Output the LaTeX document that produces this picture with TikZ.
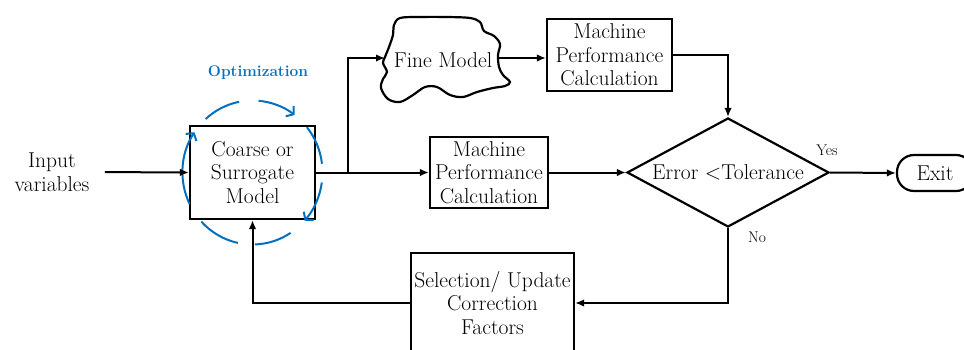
\documentclass[tikz,border=0pt]{standalone}
\usetikzlibrary{shapes.geometric,arrows.meta,calc}
\definecolor{optblue}{RGB}{0,112,192}
\begin{document}
\begin{tikzpicture}[x=1pt,y=1pt,
  mainfont/.style={font=\fontsize{21.5}{23.5}\selectfont},
  box/.style={draw, line width=2.2pt, align=center, inner sep=0pt, mainfont},
  conn/.style={line width=2pt, -{Latex[length=9pt,width=7.5pt]}},
  optarc/.style={optblue, line width=2pt},
  optarrow/.style={optblue, line width=2pt, -{Straight Barb[length=5pt,width=13pt,line width=2pt]}},
  smalltext/.style={font=\fontsize{15.5}{17}\selectfont}]
\useasboundingbox (0,0) rectangle (964,349);

% nodes
\node[align=center, mainfont] (input) at (52,177) {Input\\variables};
\node[box, minimum width=125pt, minimum height=93pt] (coarse) at (252.5,176.5) {Coarse or\\Surrogate\\Model};
\node[box, minimum width=118pt, minimum height=71pt] (box2) at (489,176.5) {Machine\\Performance\\Calculation};
\node[box, minimum width=125pt, minimum height=72pt] (box1) at (609.5,294) {Machine\\Performance\\Calculation};
\node[draw, line width=2.2pt, diamond, aspect=1.85, inner sep=0pt, minimum width=202pt, minimum height=109pt, mainfont] (dia) at (728,176.5) {Error <Tolerance};
\node[draw, line width=2.2pt, rectangle, rounded corners=17pt, minimum width=76pt, minimum height=36pt, mainfont] (exit) at (935,176) {Exit};
\node[box, minimum width=163pt, minimum height=100pt] (sel) at (492.5,46) {Selection/ Update\\Correction\\Factors};

% fine model cloud
\draw[line width=2.2pt] plot[smooth cycle, tension=0.55] coordinates {
 (385,292) (389,302) (393,314) (394,324) (400,331) (420,332) (447,332) (470,331) (480,327)
 (484,318) (494,313) (500,305) (498,294) (499,282) (503,274) (510,267) (505,263)
 (493,261) (477,257) (463,252) (450,254) (437,262) (425,262) (413,254) (400,247) (388,250)
 (381,261) (383,270) (387,277) (383,286)};
\node[mainfont] (fine) at (443,289) {Fine Model};
\coordinate (fineW) at (385,291);
\coordinate (fineE) at (499,291);
\coordinate (br) at (348,176.5);

% optimization loop
\coordinate (oc) at (252.5,176.5);
\node[optblue, font=\fontsize{15.5}{17}\selectfont\bfseries] (opt) at (258,276) {Optimization};
\draw[optarc] ($(oc)+(132:70 and 72)$) arc[start angle=132, end angle=101, x radius=70, y radius=72];
\draw[optarrow] ($(oc)+(85:70 and 72)$) arc[start angle=85, end angle=53, x radius=70, y radius=72];
\draw[optarc] ($(oc)+(39:70 and 72)$) arc[start angle=39, end angle=7, x radius=70, y radius=72];
\draw[optarrow] ($(oc)+(-8:70 and 72)$) arc[start angle=-8, end angle=-42, x radius=70, y radius=72];
\draw[optarc] ($(oc)+(-57:70 and 72)$) arc[start angle=-57, end angle=-88, x radius=70, y radius=72];
\draw[optarc] ($(oc)+(-102:70 and 72)$) arc[start angle=-102, end angle=-137, x radius=70, y radius=72];
\draw[optarrow] ($(oc)+(206:70 and 72)$) arc[start angle=206, end angle=146, x radius=70, y radius=72];

% connectors
\draw[conn, shorten <=12pt] (input.east) -- (coarse.west);
\draw[conn] (coarse.east) -- (box2.west);
\draw[conn] (br) |- (fineW);
\draw[conn] (fineE) -- (fineE -| box1.west);
\draw[conn] (box1.east) -| (dia.north);
\draw[conn] (box2.east) -- (dia.west);
\draw[conn] (dia.east) -- (exit.west);
\draw[conn] (dia.south) |- (sel.east);
\draw[conn] (sel.west) -| (coarse.south);

\node[smalltext] (yes) at (827,199) {Yes};
\node[smalltext] (no) at (757,112) {No};
\end{tikzpicture}
\end{document}
